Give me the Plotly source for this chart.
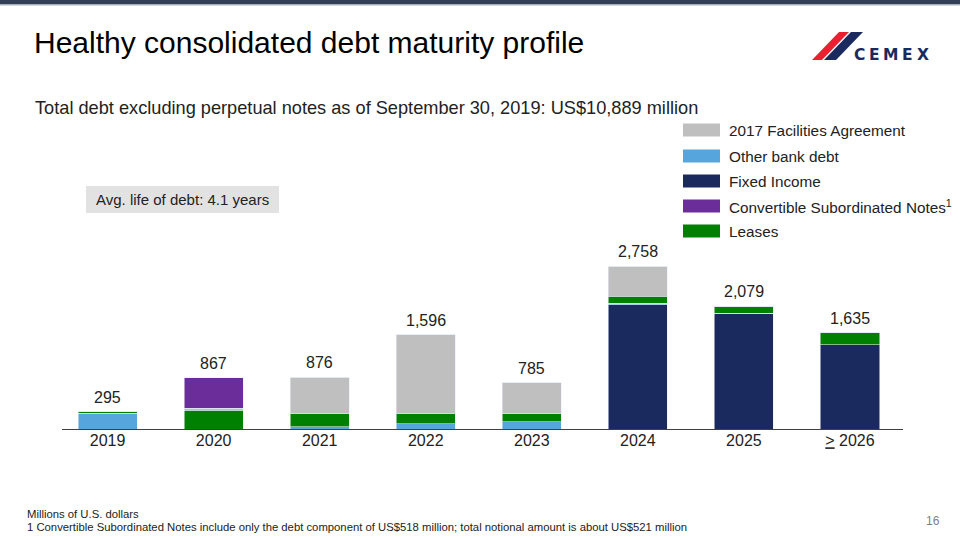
import plotly.graph_objects as go

# ---------------- data ----------------
categories = ["2019", "2020", "2021", "2022", "2023", "2024", "2025", "2026+"]
tick_labels = ["2019", "2020", "2021", "2022", "2023", "2024", "2025",
               "<span style='text-decoration:underline'>></span> 2026"]
fixed_income = [0, 0, 0, 0, 0, 2110, 1966, 1430]
other_bank = [268, 0, 40, 85, 124, 25, 0, 0]
leases = [27, 314, 215, 175, 135, 113, 113, 205]
facilities = [0, 35, 621, 1336, 526, 510, 0, 0]
convertible = [0, 518, 0, 0, 0, 0, 0, 0]
totals = [295, 867, 876, 1596, 785, 2758, 2079, 1635]

legend_names = ["2017 Facilities Agreement", "Other bank debt", "Fixed Income",
                "Convertible Subordinated Notes<sup>1</sup>", "Leases"]
legend_colors = ["#BFBFBF", "#56A5DC", "#1A2A5E", "#6A2D9A", "#008000"]

C_FAC, C_OTH, C_FIX, C_CONV, C_LEA = "#BFBFBF", "#56A5DC", "#1A2A5E", "#6A2D9A", "#008000"

# ---------------- layout geometry ----------------
W, H = 960, 540
L, R, T, B = 62, 57, 252, 111
PW, PH = W - L - R, H - T - B


def px(x):
    return (x - L) / PW


def py(y):
    return (H - B - y) / PH


FONT = "Liberation Sans, Arial, sans-serif"

fig = go.Figure()
line_style = dict(width=0.8, color="rgba(230,235,245,0.7)")
for vals, color, name in [
    (fixed_income, C_FIX, "Fixed Income"),
    (other_bank, C_OTH, "Other bank debt"),
    (leases, C_LEA, "Leases"),
    (facilities, C_FAC, "2017 Facilities Agreement"),
    (convertible, C_CONV, "Convertible Subordinated Notes"),
]:
    fig.add_trace(go.Bar(x=categories, y=vals, name=name, marker_color=color,
                         marker_line=line_style, showlegend=False,
                         hoverinfo="x+y+name"))

annotations = []
# totals above bars
for i, t in enumerate(totals):
    annotations.append(dict(x=i, y=t, xref="x", yref="y", text=f"{t:,}",
                            showarrow=False, yanchor="bottom", yshift=4,
                            font=dict(family=FONT, size=16, color="#222222")))

shapes = []
# top band
shapes.append(dict(type="rect", xref="paper", yref="paper", x0=px(0), x1=px(W),
                   y0=py(0), y1=py(4), fillcolor="#323E55", line_width=0, layer="above"))
shapes.append(dict(type="rect", xref="paper", yref="paper", x0=px(0), x1=px(W),
                   y0=py(4), y1=py(5.5), fillcolor="#A9B0BB", line_width=0, layer="above"))

# title & subtitle
annotations.append(dict(xref="paper", yref="paper", x=px(32), y=py(43), xanchor="left",
                        yanchor="middle", showarrow=False,
                        text="Healthy consolidated debt maturity profile",
                        font=dict(family=FONT, size=30, color="#000000")))
annotations.append(dict(xref="paper", yref="paper", x=px(33), y=py(108), xanchor="left",
                        yanchor="middle", showarrow=False,
                        text="Total debt excluding perpetual notes as of September 30, 2019: US$10,889 million",
                        font=dict(family=FONT, size=18.2, color="#222222")))

# legend (manual)
leg_y = [130, 156, 181, 206, 231]
for name, color, yy in zip(legend_names, legend_colors, leg_y):
    shapes.append(dict(type="rect", xref="paper", yref="paper", x0=px(683), x1=px(720),
                       y0=py(yy + 6.5), y1=py(yy - 6.5), fillcolor=color, line_width=0))
    annotations.append(dict(xref="paper", yref="paper", x=px(727), y=py(yy), xanchor="left",
                            yanchor="middle", showarrow=False, text=name,
                            font=dict(family=FONT, size=15.3, color="#222222")))

# avg life box
shapes.append(dict(type="rect", xref="paper", yref="paper", x0=px(86), x1=px(279),
                   y0=py(213), y1=py(186), fillcolor="#E2E2E2", line_width=0))
annotations.append(dict(xref="paper", yref="paper", x=px(182), y=py(199), xanchor="center",
                        yanchor="middle", showarrow=False, text="Avg. life of debt: 4.1 years",
                        font=dict(family=FONT, size=15, color="#222222")))

# footnotes
annotations.append(dict(xref="paper", yref="paper", x=px(25), y=py(514), xanchor="left",
                        yanchor="middle", showarrow=False, text="Millions of U.S. dollars",
                        font=dict(family=FONT, size=11.3, color="#222222")))
annotations.append(dict(xref="paper", yref="paper", x=px(25), y=py(527), xanchor="left",
                        yanchor="middle", showarrow=False,
                        text="1 Convertible Subordinated Notes include only the debt component of US$518 million; total notional amount is about US$521 million",
                        font=dict(family=FONT, size=11.3, color="#222222")))
annotations.append(dict(xref="paper", yref="paper", x=px(942), y=py(521), xanchor="right",
                        yanchor="middle", showarrow=False, text="16",
                        font=dict(family=FONT, size=12, color="#7F7F7F")))


# logo
def path(pts):
    return "M " + " L ".join(f"{px(a)},{py(b)}" for a, b in pts) + " Z"


shapes.append(dict(type="path", xref="paper", yref="paper",
                   path=path([(839, 32), (849, 32), (822, 60), (812, 60)]),
                   fillcolor="#E8202F", line_width=0))
shapes.append(dict(type="path", xref="paper", yref="paper",
                   path=path([(851, 32), (863, 32), (836, 60), (824, 60)]),
                   fillcolor="#1A2A5E", line_width=0))
for ch, cx in zip("CEMEX", [859.5, 874.5, 890.5, 907, 923]):
    annotations.append(dict(xref="paper", yref="paper", x=px(cx), y=py(55.5), xanchor="center",
                            yanchor="middle", showarrow=False, text=f"<b>{ch}</b>",
                            font=dict(family="DejaVu Sans, sans-serif", size=15.5, color="#1A2A5E")))

fig.update_layout(
    width=W, height=H,
    margin=dict(l=L, r=R, t=T, b=B, pad=0),
    paper_bgcolor="white", plot_bgcolor="white",
    barmode="stack", bargap=0.443,
    annotations=annotations, shapes=shapes,
    font=dict(family=FONT, color="#222222"),
)
fig.update_xaxes(type="category", range=[-0.43, 7.5], showline=True, linecolor="#404040",
                 linewidth=1.2, ticks="", tickvals=categories, ticktext=tick_labels,
                 tickfont=dict(family=FONT, size=16, color="#222222"), showgrid=False,
                 ticklabelstandoff=-3, fixedrange=True)
fig.update_yaxes(range=[0, 3000], visible=False, showgrid=False, fixedrange=True)

fig.write_html("out.html", config={"displayModeBar": False},
               post_script="document.body.style.margin='0px';")
